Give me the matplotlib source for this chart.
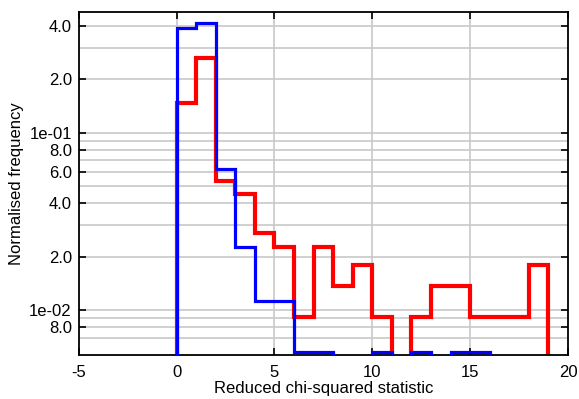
import numpy as np
import matplotlib
matplotlib.use("Agg")
import matplotlib.pyplot as plt
from matplotlib.ticker import FixedLocator, FixedFormatter, NullLocator

plt.rcParams['font.family'] = ['Liberation Sans', 'DejaVu Sans']
plt.rcParams['axes.unicode_minus'] = False

# bin edges of the histogram (reduced chi-squared)
edges = np.arange(0, 20)
# normalised frequency per bin, blue and red samples
blue = [0.392, 0.418, 0.0626, 0.0227, 0.0112, 0.0112, 0.0058, 0.0058, 0, 0,
        0.0058, 0, 0.0058, 0, 0.0058, 0.0058, 0, 0, 0]
red = [0.148, 0.265, 0.0536, 0.0452, 0.0272, 0.0227, 0.0091, 0.0227, 0.0137, 0.018,
       0.0091, 0, 0.0091, 0.0137, 0.0137, 0.0091, 0.0091, 0.0091, 0.018]

ytick_vals = [0.4, 0.2, 0.1, 0.08, 0.06, 0.04, 0.02, 0.01, 0.008]
ytick_labels = ['4.0', '2.0', '1e-01', '8.0', '6.0', '4.0', '2.0', '1e-02', '8.0']
ygrid_vals = [0.4, 0.3, 0.2, 0.1, 0.09, 0.08, 0.07, 0.06, 0.05, 0.04, 0.03, 0.02,
              0.01, 0.009, 0.008, 0.007]
xticks = [-5, 0, 5, 10, 15, 20]

fig = plt.figure(figsize=(5.79, 3.99), dpi=100)
ax = fig.add_axes([0.136, 0.110, 0.845, 0.860])
ax.set_yscale('log')

# grid lines
for v in ygrid_vals:
    ax.axhline(v, color='#c8c8c8', lw=1.2, zorder=0)
for v in xticks[1:-1]:
    ax.axvline(v, color='#c8c8c8', lw=1.2, zorder=0)

ax.stairs(red, edges, color='#ff0000', lw=3.0, baseline=0, zorder=2)
ax.stairs(blue, edges, color='#0000ff', lw=2.3, baseline=0, zorder=3)

ax.set_xlim(-5, 20)
ax.set_ylim(0.00557, 0.48)
ax.xaxis.set_major_locator(FixedLocator(xticks))
ax.yaxis.set_major_locator(FixedLocator(ytick_vals))
ax.yaxis.set_major_formatter(FixedFormatter(ytick_labels))
ax.yaxis.set_minor_locator(NullLocator())
ax.tick_params(direction='in', length=5, width=1.2, top=True, right=True, labelsize=12, colors='black')
ax.tick_params(axis='y', pad=5)
ax.tick_params(axis='x', pad=7)

for s in ax.spines.values():
    s.set_linewidth(1.3)

ax.set_xlabel('Reduced chi-squared statistic', fontsize=12)
ax.set_ylabel('Normalised frequency', fontsize=12)
ax.xaxis.set_label_coords(0.5, -0.074)
ax.yaxis.set_label_coords(-0.112, 0.5)

fig.savefig('out.png', dpi=100)
